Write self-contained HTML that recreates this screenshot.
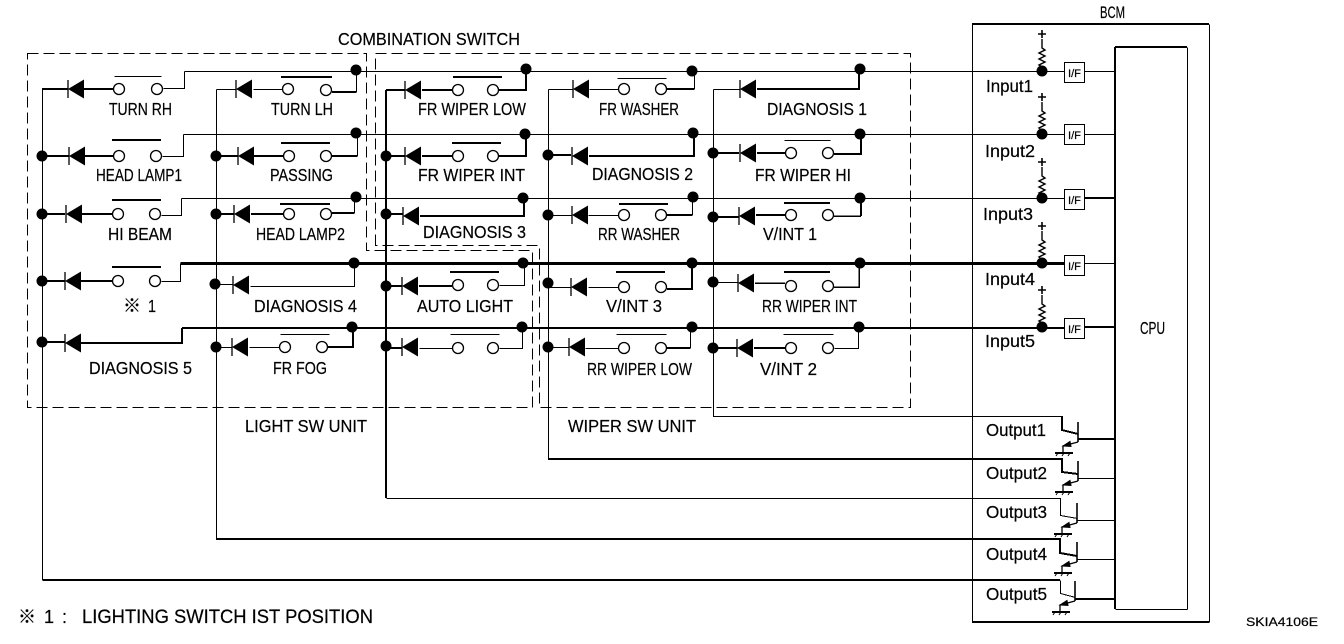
<!DOCTYPE html>
<html>
<head>
<meta charset="utf-8">
<style>
html,body{margin:0;padding:0;background:#fff}
svg{display:block}
text{font-family:"Liberation Sans","Noto Sans CJK JP",sans-serif;font-size:17.5px;fill:#000;stroke:#000;stroke-width:.2px}
.w1,.w2,.w3,.w15{fill:none;stroke:#000;shape-rendering:crispEdges}
.w1{stroke-width:1;transform:translate(.5px,.5px)}.w15{stroke-width:1.5}.w2{stroke-width:2}.w3{stroke-width:3;transform:translate(.5px,.5px)}
.dash{fill:none;stroke:#000;stroke-width:1;stroke-dasharray:11 5;shape-rendering:crispEdges;transform:translate(.5px,.5px)}
</style>
</head>
<body>
<svg width="1344" height="644" viewBox="0 0 1344 644" xmlns="http://www.w3.org/2000/svg">
<defs>
<g id="d"><path d="M0 0L16 -9.5V9.5Z" fill="#000"/><path d="M0 -9V9" stroke="#000" stroke-width="1.3" fill="none"/></g>
<circle id="c" r="5.5" fill="#fff" stroke="#000" stroke-width="1.3"/>
<circle id="n" r="5.5" fill="#000"/>
<g id="r" fill="none" stroke="#000" stroke-width="1.2"><path d="M-4 0H4M0 -4V4" stroke-width="1.6"/><path d="M0 5V14L3 16L-3 19L3 22L-3 25L3 28L-3 31L0 33V37" stroke-width="1.4"/></g>
<g id="t" fill="none" stroke="#000"><path d="M0 -16L0 4" stroke-width="1.6"/><path d="M0 4L-15 8V15" stroke-width="1.3"/><path d="M-15 8L-8 3.5L-7 8.5Z" fill="#000" stroke-width="1"/><path d="M-23 15H-5" stroke-width="2"/><path d="M-20 15L-22 18M-14 15L-16 18M-8 15L-10 18" stroke-width="1"/></g>
</defs>

<!-- dashed boxes -->
<path class="dash" d="M27 53H366V250H532V407H27Z"/>
<path class="dash" d="M375 245V53H910V407H539V245Z"/>

<!-- long horizontal rows -->
<path class="w1" d="M184 71H1115M183 134H1115M181 198H1115"/>
<path class="w3" d="M180 263H1064"/>
<path class="w2" d="M182 328H1064"/>
<path class="w1" d="M1084 263H1115"/>
<path class="w2" d="M1084 198H1115M1084 327H1115"/>

<!-- vertical buses + outputs -->
<path class="w1" d="M42 89V580M1060 580V593L1075 597"/>
<path class="w2" d="M43 580H1060"/>
<path class="w1" d="M216 89V539"/>
<path class="w2" d="M216 539H1060V553L1077 556"/>
<path class="w2" d="M386 90V498"/>
<path class="w1" d="M386 498H1060V515L1077 518"/>
<path class="w1" d="M548 89V459"/>
<path class="w2" d="M548 459H1062V472L1078 474"/>
<path class="w1" d="M713 89V416H1062"/>
<path class="w2" d="M1062 416V430L1078 434"/>

<!-- column 1 -->
<path class="w2" d="M42 89H68M82 89H113M42 156H69M82 156H113M42 214H65M82 214H112M42 281H65M81 281H112M42 342H65M81 343H182V328"/>
<path class="w1" d="M163 88H184V71M162 156H183V134M161 215H181V198M161 281H180V263"/>
<!-- column 2 -->
<path class="w1" d="M216 89H236M253 89H282M216 284H233M250 286H354V263M216 347H232M249 347H279M356 92V71M357 134V156M354 213V197"/>
<path class="w2" d="M332 92H356M216 156H238M253 156H283M332 156H357M216 214H234M251 214H283M332 213H354M328 347H353V328"/>
<!-- column 3 -->
<path class="w2" d="M386 90H405M422 90H452M499 90H526V69M386 156H405M422 156H452M499 156H526V134M386 214H403M420 216H524V198M386 286H402M419 286H452M386 348H402"/>
<path class="w1" d="M499 285H524V263M419 348H452M499 348H522V327"/>
<!-- column 4 -->
<path class="w1" d="M548 89H573M589 89H618M694 89V71M548 215H572M588 215H618M692 215V197M548 287H571M588 287H618M548 347H569M585 348H618"/>
<path class="w2" d="M667 89H694M548 155H571M589 156H694V133M667 215H692M667 289H692V263M667 348H690"/>
<path class="w1" d="M690 348V327"/>
<!-- column 5 -->
<path class="w1" d="M713 89H739M713 282H738"/>
<path class="w2" d="M757 89H859V69M713 153H739M757 153H785M834 154H861V134M713 217H739M756 215H785M861 216V198M713 348H737M754 348H785"/>
<path class="w15" d="M834 216H861M755 283H785M834 287H859V263"/>
<path class="w1" d="M834 348H858V327"/>

<!-- diodes -->
<use href="#d" x="68" y="89"/><use href="#d" x="69" y="156"/><use href="#d" x="66" y="214"/><use href="#d" x="65" y="281"/><use href="#d" x="65" y="343"/>
<use href="#d" x="236" y="89"/><use href="#d" x="238" y="156"/><use href="#d" x="234" y="214"/><use href="#d" x="233" y="285"/><use href="#d" x="232" y="347"/>
<use href="#d" x="405" y="90"/><use href="#d" x="405" y="156"/><use href="#d" x="403" y="216"/><use href="#d" x="402" y="286"/><use href="#d" x="402" y="347"/>
<use href="#d" x="573" y="89"/><use href="#d" x="572" y="156"/><use href="#d" x="572" y="215"/><use href="#d" x="571" y="287"/><use href="#d" x="569" y="347"/>
<use href="#d" x="740" y="89"/><use href="#d" x="740" y="153"/><use href="#d" x="739" y="216"/><use href="#d" x="738" y="283"/><use href="#d" x="737" y="348"/>

<!-- switch contacts -->
<use href="#c" x="119" y="89"/><use href="#c" x="157" y="89"/><use href="#c" x="119" y="156"/><use href="#c" x="156" y="156"/><use href="#c" x="118" y="214"/><use href="#c" x="155" y="214"/><use href="#c" x="118" y="281"/><use href="#c" x="155" y="281"/>
<use href="#c" x="288" y="89"/><use href="#c" x="326" y="90"/><use href="#c" x="289" y="156"/><use href="#c" x="326" y="156"/><use href="#c" x="289" y="214"/><use href="#c" x="326" y="214"/><use href="#c" x="285" y="347"/><use href="#c" x="322" y="347"/>
<use href="#c" x="458" y="90"/><use href="#c" x="493" y="90"/><use href="#c" x="458" y="156"/><use href="#c" x="493" y="156"/><use href="#c" x="458" y="285"/><use href="#c" x="493" y="285"/><use href="#c" x="458" y="348"/><use href="#c" x="493" y="348"/>
<use href="#c" x="624" y="89"/><use href="#c" x="661" y="89"/><use href="#c" x="624" y="215"/><use href="#c" x="661" y="215"/><use href="#c" x="624" y="287"/><use href="#c" x="661" y="287"/><use href="#c" x="624" y="348"/><use href="#c" x="661" y="348"/>
<use href="#c" x="791" y="153"/><use href="#c" x="828" y="153"/><use href="#c" x="791" y="215"/><use href="#c" x="828" y="215"/><use href="#c" x="791" y="286"/><use href="#c" x="828" y="286"/><use href="#c" x="791" y="348"/><use href="#c" x="828" y="348"/>

<!-- switch bars -->
<path class="w1" d="M114 76H161M280 334H329M450 334H499M616 334H666M783 334H833M784 140H830M617 78H666"/>
<path class="w2" d="M112 140H161M112 200H161M112 267H161M281 77H332M281 143H330M280 204H330M453 77H502M452 143H501M450 272H499M619 204H668M616 272H665M784 203H830M784 272H830"/>

<!-- junction nodes -->
<use href="#n" x="42" y="156"/><use href="#n" x="42" y="214"/><use href="#n" x="42" y="281"/><use href="#n" x="42" y="342"/>
<use href="#n" x="216" y="156"/><use href="#n" x="216" y="214"/><use href="#n" x="215" y="284"/><use href="#n" x="216" y="347"/>
<use href="#n" x="386" y="156"/><use href="#n" x="386" y="214"/><use href="#n" x="386" y="286"/><use href="#n" x="386" y="346"/>
<use href="#n" x="548" y="155"/><use href="#n" x="548" y="215"/><use href="#n" x="548" y="283"/><use href="#n" x="548" y="347"/>
<use href="#n" x="713" y="153"/><use href="#n" x="713" y="217"/><use href="#n" x="713" y="282"/><use href="#n" x="713" y="348"/>
<use href="#n" x="356" y="70"/><use href="#n" x="356" y="133"/><use href="#n" x="356" y="197"/><use href="#n" x="354" y="263"/><use href="#n" x="352" y="327"/>
<use href="#n" x="526" y="69"/><use href="#n" x="525" y="134"/><use href="#n" x="523" y="198"/><use href="#n" x="523" y="263"/><use href="#n" x="522" y="327"/>
<use href="#n" x="692" y="71"/><use href="#n" x="693" y="133"/><use href="#n" x="693" y="197"/><use href="#n" x="692" y="263"/><use href="#n" x="692" y="327"/>
<use href="#n" x="860" y="69"/><use href="#n" x="860" y="134"/><use href="#n" x="860" y="198"/><use href="#n" x="860" y="263"/><use href="#n" x="859" y="327"/>

<!-- BCM -->
<path class="w1" d="M972 24V622M1209 24V622"/>
<path class="w2" d="M972 24H1209M972 622H1209"/>
<path class="w2" d="M1115 47H1187M1115 47V609"/>
<path class="w1" d="M1187 47V609M1115 609H1187"/>
<use href="#n" x="1042" y="71"/><use href="#n" x="1042" y="134"/><use href="#n" x="1042" y="198"/><use href="#n" x="1042" y="263"/><use href="#n" x="1042" y="327"/>
<use href="#r" x="1042" y="34"/><use href="#r" x="1042" y="97"/><use href="#r" x="1042" y="162"/><use href="#r" x="1042" y="226"/><use href="#r" x="1042" y="290"/>
<g fill="#fff" stroke="#000" stroke-width="1" shape-rendering="crispEdges">
<rect x="1064.5" y="62.5" width="20" height="20"/><rect x="1064.5" y="124.5" width="20" height="20"/><rect x="1064.5" y="189.5" width="20" height="20"/><rect x="1064.5" y="255.5" width="20" height="20"/><rect x="1064.5" y="318.5" width="20" height="20"/>
</g>
<g>
<text x="1068" y="77" textLength="13" lengthAdjust="spacingAndGlyphs" style="font-size:11px">I/F</text>
<text x="1068" y="139" textLength="13" lengthAdjust="spacingAndGlyphs" style="font-size:11px">I/F</text>
<text x="1068" y="204" textLength="13" lengthAdjust="spacingAndGlyphs" style="font-size:11px">I/F</text>
<text x="1068" y="270" textLength="13" lengthAdjust="spacingAndGlyphs" style="font-size:11px">I/F</text>
<text x="1068" y="333" textLength="13" lengthAdjust="spacingAndGlyphs" style="font-size:11px">I/F</text>
</g>
<!-- transistors -->
<use href="#t" x="1078" y="438"/><use href="#t" x="1078" y="477"/><use href="#t" x="1077" y="519"/><use href="#t" x="1077" y="558"/><use href="#t" x="1075" y="597"/>
<path class="w2" d="M1078 439H1115M1075 599H1115"/>
<path class="w1" d="M1078 478H1115M1077 520H1115M1077 559H1115"/>

<!-- labels -->
<g>
<text x="338" y="45" textLength="182" lengthAdjust="spacingAndGlyphs">COMBINATION SWITCH</text>
<text x="109" y="115" textLength="63" lengthAdjust="spacingAndGlyphs">TURN RH</text>
<text x="271" y="115" textLength="62" lengthAdjust="spacingAndGlyphs">TURN LH</text>
<text x="418" y="115" textLength="108" lengthAdjust="spacingAndGlyphs">FR WIPER LOW</text>
<text x="599" y="115" textLength="80" lengthAdjust="spacingAndGlyphs">FR WASHER</text>
<text x="767" y="115" textLength="100" lengthAdjust="spacingAndGlyphs">DIAGNOSIS 1</text>
<text x="96" y="181" textLength="86" lengthAdjust="spacingAndGlyphs">HEAD LAMP1</text>
<text x="270" y="181" textLength="63" lengthAdjust="spacingAndGlyphs">PASSING</text>
<text x="418" y="181" textLength="107" lengthAdjust="spacingAndGlyphs">FR WIPER INT</text>
<text x="592" y="180" textLength="101" lengthAdjust="spacingAndGlyphs">DIAGNOSIS 2</text>
<text x="755" y="181" textLength="96" lengthAdjust="spacingAndGlyphs">FR WIPER HI</text>
<text x="108" y="240" textLength="64" lengthAdjust="spacingAndGlyphs">HI BEAM</text>
<text x="256" y="240" textLength="89" lengthAdjust="spacingAndGlyphs">HEAD LAMP2</text>
<text x="423" y="238" textLength="103" lengthAdjust="spacingAndGlyphs">DIAGNOSIS 3</text>
<text x="598" y="240" textLength="82" lengthAdjust="spacingAndGlyphs">RR WASHER</text>
<text x="763" y="240" textLength="54" lengthAdjust="spacingAndGlyphs">V/INT 1</text>
<text x="123" y="312" style="font-size:18px">※</text>
<text x="148" y="312" textLength="8" lengthAdjust="spacingAndGlyphs">1</text>
<text x="254" y="312" textLength="103" lengthAdjust="spacingAndGlyphs">DIAGNOSIS 4</text>
<text x="417" y="312" textLength="96" lengthAdjust="spacingAndGlyphs">AUTO LIGHT</text>
<text x="606" y="312" textLength="56" lengthAdjust="spacingAndGlyphs">V/INT 3</text>
<text x="762" y="312" textLength="95" lengthAdjust="spacingAndGlyphs">RR WIPER INT</text>
<text x="89" y="374" textLength="103" lengthAdjust="spacingAndGlyphs">DIAGNOSIS 5</text>
<text x="273" y="374" textLength="54" lengthAdjust="spacingAndGlyphs">FR FOG</text>
<text x="587" y="375" textLength="105" lengthAdjust="spacingAndGlyphs">RR WIPER LOW</text>
<text x="760" y="375" textLength="57" lengthAdjust="spacingAndGlyphs">V/INT 2</text>
<text x="245" y="432" textLength="122" lengthAdjust="spacingAndGlyphs">LIGHT SW UNIT</text>
<text x="568" y="432" textLength="128" lengthAdjust="spacingAndGlyphs">WIPER SW UNIT</text>
<text x="1100" y="18" textLength="25" lengthAdjust="spacingAndGlyphs" style="font-size:16.5px">BCM</text>
<text x="986" y="92" textLength="47" lengthAdjust="spacingAndGlyphs">Input1</text>
<text x="985" y="157" textLength="50" lengthAdjust="spacingAndGlyphs">Input2</text>
<text x="983" y="220" textLength="50" lengthAdjust="spacingAndGlyphs">Input3</text>
<text x="985" y="285" textLength="50" lengthAdjust="spacingAndGlyphs">Input4</text>
<text x="985" y="347" textLength="50" lengthAdjust="spacingAndGlyphs">Input5</text>
<text x="1140" y="334" textLength="25" lengthAdjust="spacingAndGlyphs">CPU</text>
<text x="986" y="436" textLength="60" lengthAdjust="spacingAndGlyphs">Output1</text>
<text x="986" y="479" textLength="61" lengthAdjust="spacingAndGlyphs">Output2</text>
<text x="986" y="518" textLength="61" lengthAdjust="spacingAndGlyphs">Output3</text>
<text x="986" y="560" textLength="61" lengthAdjust="spacingAndGlyphs">Output4</text>
<text x="986" y="600" textLength="61" lengthAdjust="spacingAndGlyphs">Output5</text>
<text x="18" y="623" style="font-size:18px">※</text>
<text x="44" y="623" style="font-size:18px">1</text>
<text x="62" y="623" style="font-size:18px">:</text>
<text x="82" y="623" style="font-size:19px" textLength="291" lengthAdjust="spacingAndGlyphs">LIGHTING SWITCH IST POSITION</text>
<text x="1246" y="626" textLength="72" lengthAdjust="spacingAndGlyphs" style="font-size:12px">SKIA4106E</text>
</g>
</svg>
</body>
</html>
